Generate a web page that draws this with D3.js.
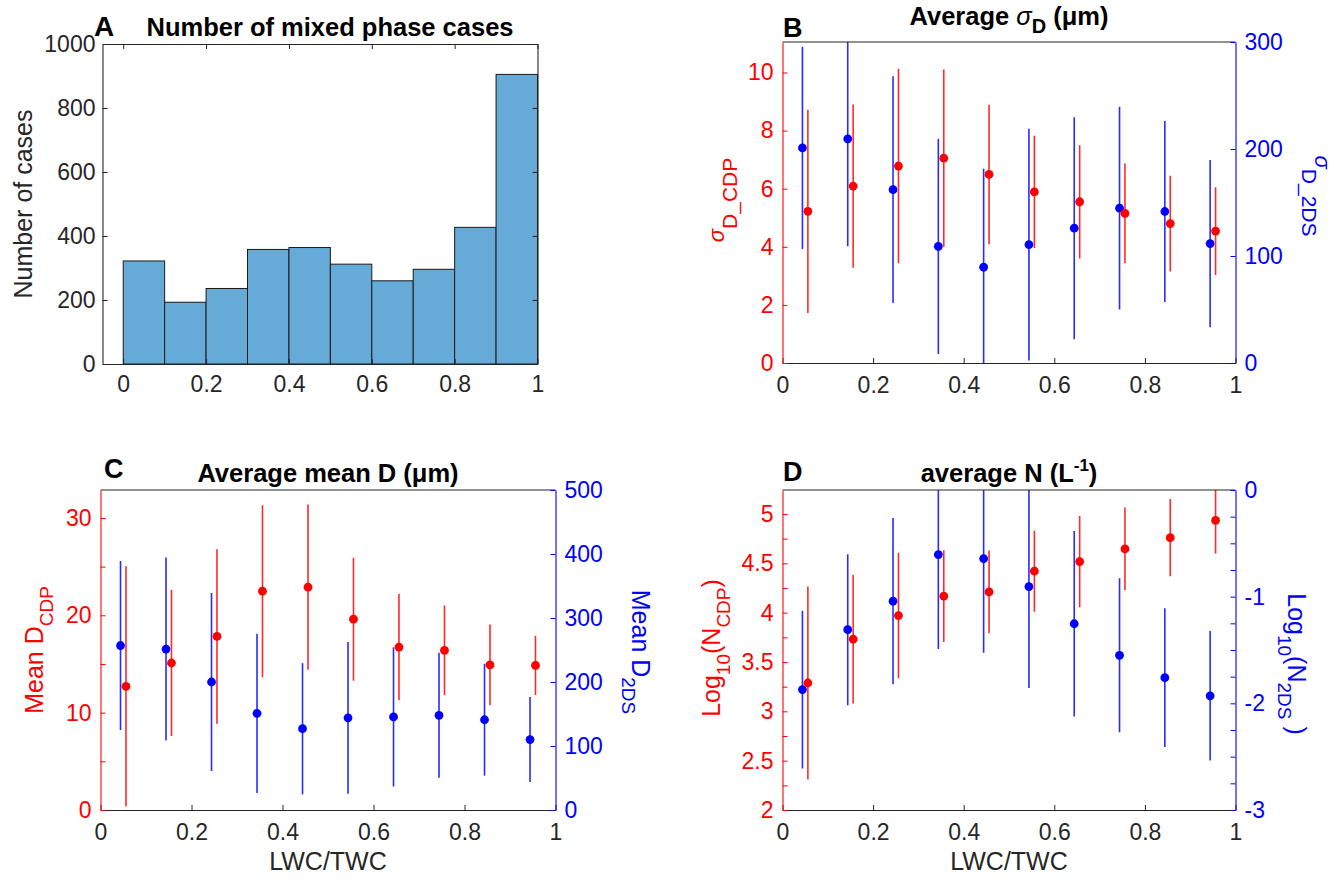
<!DOCTYPE html>
<html><head><meta charset="utf-8">
<script src="https://cdn.jsdelivr.net/npm/d3@7"></script>
<style>
body{margin:0;background:#fff}
svg text{font-family:"Liberation Sans",Arial,Helvetica,sans-serif}
</style>
</head><body>
<svg id="fig" width="1337" height="880"></svg>
<script>
// ---------------- DATA ----------------
const binEdges = [0,0.1,0.2,0.3,0.4,0.5,0.6,0.7,0.8,0.9,1.0];
const caseCounts = [322,193,236,358,364,312,260,296,427,905];
const binCenters = [0.05,0.15,0.25,0.35,0.45,0.55,0.65,0.75,0.85,0.95];
const xTicks = [0,0.2,0.4,0.6,0.8,1];
const histYTicks = [0,200,400,600,800,1000];

// Panel B: sigma_D
const sigmaCDP    = [5.22,6.09,6.78,7.05,6.49,5.89,5.55,5.15,4.80,4.54];
const sigmaCDPerr = [3.50,2.81,3.35,3.05,2.40,1.93,1.95,1.72,1.65,1.51];
const sigma2DS    = [201,209.5,162,109,89.5,110.7,126,144.7,141.6,111.6];
const sigma2DSerr = [94.5,100.5,106,100.6,92,108.3,103.7,94.7,84.6,78.2];
const bLeftTicks  = [0,2,4,6,8,10];
const bRightTicks = [0,100,200,300];

// Panel C: mean D
const meanDCDP    = [12.7,15.1,17.83,22.48,22.89,19.6,16.74,16.4,14.9,14.86];
const meanDCDPerr = [12.33,7.51,8.96,8.83,8.48,6.32,5.47,4.6,4.15,3.05];
const meanD2DS    = [257,251.5,200,151,127,144,145.5,148,141,110];
const meanD2DSerr = [132,143,139,124.5,102.5,118.5,108.7,97.7,87.4,66.4];
const cLeftTicks  = [0,5,10,15,20,25,30];
const cLeftLabels = [0,10,20,30];
const cRightTicks = [0,100,200,300,400,500];

// Panel D: log10 N
const logNCDP     = [3.287,3.732,3.97,4.167,4.21,4.42,4.518,4.646,4.76,4.936];
const logNCDPerr  = [0.979,0.653,0.636,0.465,0.42,0.41,0.462,0.42,0.392,0.336];
const logN2DS     = [-1.871,-1.31,-1.042,-0.605,-0.643,-0.905,-1.254,-1.55,-1.759,-1.93];
const logN2DSerr  = [0.74,0.708,0.78,0.885,0.882,0.951,0.869,0.722,0.65,0.607];
const dLeftTicks  = [2,2.25,2.5,2.75,3,3.25,3.5,3.75,4,4.25,4.5,4.75,5];
const dLeftLabels = [2,2.5,3,3.5,4,4.5,5];
const dRightTicks = [-3,-2.75,-2.5,-2.25,-2,-1.75,-1.5,-1.25,-1,-0.75,-0.5,-0.25,0];
const dRightLabels= [-3,-2,-1,0];

// ---------------- STYLE ----------------
const RED = "#ff0000", BLUE = "#0000ff", AX = "#262626";
const TICK_FS = 23, LAB_FS = 25, TITLE_FS = 25.5;
const svg = d3.select("#fig");

function styleAxis(g, color){
  g.attr("color", color).attr("font-size", TICK_FS)
   .attr("font-family", '"Liberation Sans",Arial,sans-serif');
  g.selectAll("path.domain").attr("stroke-width", 1.1);
  g.selectAll(".tick line").attr("stroke-width", 1);
}

function rich(parent, x, y, rot, parts, opts){
  const t = parent.append("text")
    .attr("transform", `translate(${x},${y}) rotate(${rot})`)
    .attr("text-anchor", "middle")
    .attr("fill", opts.color || "#000")
    .attr("font-size", opts.size)
    .attr("font-weight", opts.weight || "normal");
  let cur = 0;
  parts.forEach(p => {
    const sp = t.append("tspan").text(p.t);
    const target = p.dy || 0;
    if (target !== cur) { sp.attr("dy", target - cur); cur = target; }
    if (p.size) sp.attr("font-size", p.size);
    if (p.italic) sp.attr("font-style", "italic");
    if (p.weight) sp.attr("font-weight", p.weight);
  });
  return t;
}

// ---------------- PANEL A ----------------
(function(){
  const L=102.5, R=537.5, T=44, B=364;
  const x = d3.scaleLinear().domain([-0.05,1]).range([L,R]);
  const y = d3.scaleLinear().domain([0,1000]).range([B,T]);
  const g = svg.append("g");
  g.selectAll("rect.bar").data(caseCounts).enter().append("rect")
    .attr("x",(d,i)=>x(binEdges[i])).attr("width",(d,i)=>x(binEdges[i+1])-x(binEdges[i]))
    .attr("y",d=>y(d)).attr("height",d=>B-y(d))
    .attr("fill","#66aad7").attr("stroke","#1a1a1a").attr("stroke-width",1);
  const fmt = d=>String(d);
  const ax1 = g.append("g").attr("transform",`translate(0,${B})`)
    .call(d3.axisBottom(x).tickValues(xTicks).tickFormat(fmt).tickSizeInner(-5).tickSizeOuter(0).tickPadding(12));
  styleAxis(ax1, AX);
  const ax2 = g.append("g").attr("transform",`translate(0,${T})`)
    .call(d3.axisTop(x).tickValues(xTicks).tickFormat("").tickSizeInner(-5).tickSizeOuter(0));
  styleAxis(ax2, AX);
  const ay1 = g.append("g").attr("transform",`translate(${L},0)`)
    .call(d3.axisLeft(y).tickValues(histYTicks).tickFormat(fmt).tickSizeInner(-5).tickSizeOuter(0).tickPadding(7));
  styleAxis(ay1, AX);
  const ay2 = g.append("g").attr("transform",`translate(${R},0)`)
    .call(d3.axisRight(y).tickValues(histYTicks).tickFormat("").tickSizeInner(-5).tickSizeOuter(0));
  styleAxis(ay2, AX);
  g.append("text").attr("x",94).attr("y",36).attr("font-size",28).attr("font-weight","bold").text("A");
  g.append("text").attr("x",330).attr("y",36).attr("text-anchor","middle")
    .attr("font-size",TITLE_FS).attr("font-weight","bold").text("Number of mixed phase cases");
  rich(g, 32, 204, -90, [{t:"Number of cases"}], {size:LAB_FS, color:"#262626"});
})();

// ---------------- DUAL-AXIS PANELS ----------------
function dualPanel(cfg){
  const {L,R,T,B} = cfg;
  const g = svg.append("g");
  const x = d3.scaleLinear().domain([0,1]).range([L,R]);
  const yl = d3.scaleLinear().domain(cfg.leftDomain).range([B,T]);
  const yr = d3.scaleLinear().domain(cfg.rightDomain).range([B,T]);
  const cid = "clip"+cfg.id;
  g.append("clipPath").attr("id",cid).append("rect")
    .attr("x",L).attr("y",T).attr("width",R-L).attr("height",B-T);
  const pg = g.append("g").attr("clip-path",`url(#${cid})`);
  const offB = -0.006, offR = 0.006;
  // blue series (right axis)
  pg.selectAll("line.eb2").data(cfg.rVals).enter().append("line")
    .attr("x1",(d,i)=>x(binCenters[i]+offB)).attr("x2",(d,i)=>x(binCenters[i]+offB))
    .attr("y1",(d,i)=>yr(d-cfg.rErr[i])).attr("y2",(d,i)=>yr(d+cfg.rErr[i]))
    .attr("stroke","#2a2aff").attr("stroke-width",1.6);
  pg.selectAll("circle.p2").data(cfg.rVals).enter().append("circle")
    .attr("cx",(d,i)=>x(binCenters[i]+offB)).attr("cy",d=>yr(d)).attr("r",4.4).attr("fill",BLUE);
  // red series (left axis)
  pg.selectAll("line.eb1").data(cfg.lVals).enter().append("line")
    .attr("x1",(d,i)=>x(binCenters[i]+offR)).attr("x2",(d,i)=>x(binCenters[i]+offR))
    .attr("y1",(d,i)=>yl(d-cfg.lErr[i])).attr("y2",(d,i)=>yl(d+cfg.lErr[i]))
    .attr("stroke","#ff2a2a").attr("stroke-width",1.6);
  pg.selectAll("circle.p1").data(cfg.lVals).enter().append("circle")
    .attr("cx",(d,i)=>x(binCenters[i]+offR)).attr("cy",d=>yl(d)).attr("r",4.4).attr("fill",RED);
  // top line
  g.append("line").attr("x1",L).attr("x2",R).attr("y1",T).attr("y2",T)
    .attr("stroke",AX).attr("stroke-width",1.1);
  const fmt = d=>String(d);
  const ax = g.append("g").attr("transform",`translate(0,${B})`)
    .call(d3.axisBottom(x).tickValues(xTicks).tickFormat(fmt).tickSizeInner(-5).tickSizeOuter(0).tickPadding(14));
  styleAxis(ax, AX);
  const lLab = new Set(cfg.leftLabels || cfg.leftTicks);
  const rLab = new Set(cfg.rightLabels || cfg.rightTicks);
  const al = g.append("g").attr("transform",`translate(${L},0)`)
    .call(d3.axisLeft(yl).tickValues(cfg.leftTicks).tickFormat(d=>lLab.has(d)?fmt(d):"")
      .tickSizeInner(-5).tickSizeOuter(0).tickPadding(9));
  styleAxis(al, RED);
  const ar = g.append("g").attr("transform",`translate(${R},0)`)
    .call(d3.axisRight(yr).tickValues(cfg.rightTicks).tickFormat(d=>rLab.has(d)?fmt(d):"")
      .tickSizeInner(-5).tickSizeOuter(0).tickPadding(9));
  styleAxis(ar, BLUE);
  // panel letter & title
  g.append("text").attr("x",cfg.letterX).attr("y",cfg.letterY).attr("font-size",27)
    .attr("font-weight","bold").text(cfg.letter);
  rich(g, (L+R)/2, cfg.titleY, 0, cfg.title, {size:TITLE_FS, weight:"bold"});
  rich(g, cfg.lLabX, cfg.lLabY, -90, cfg.lLabel, {size:LAB_FS, color:RED});
  rich(g, cfg.rLabX, cfg.rLabY, 90, cfg.rLabel, {size:LAB_FS, color:BLUE});
  if (cfg.xlabel) {
    g.append("text").attr("x",(L+R)/2).attr("y",B+60).attr("text-anchor","middle")
      .attr("font-size",LAB_FS).attr("fill","#262626").text(cfg.xlabel);
  }
}

// Panel B
dualPanel({id:"B", L:782.5, R:1235.5, T:42, B:363,
  leftDomain:[0,11.05], rightDomain:[0,300],
  leftTicks:bLeftTicks, rightTicks:bRightTicks,
  lVals:sigmaCDP, lErr:sigmaCDPerr, rVals:sigma2DS, rErr:sigma2DSerr,
  letter:"B", letterX:783, letterY:37, titleY:25,
  title:[{t:"Average "},{t:"σ",italic:true,weight:"normal"},{t:"D",size:20,dy:8},{t:" (μm)",dy:0}],
  lLabX:724, lLabY:200, lLabel:[{t:"σ",italic:true,size:22},{t:"D_CDP",dy:13,size:21}],
  rLabX:1315, rLabY:196, rLabel:[{t:"σ",italic:true,size:22},{t:"D_2DS",dy:13,size:21}]
});

// Panel C
dualPanel({id:"C", L:100.5, R:555.5, T:490, B:810,
  leftDomain:[0,32.87], rightDomain:[0,500],
  leftTicks:cLeftTicks, leftLabels:cLeftLabels, rightTicks:cRightTicks,
  lVals:meanDCDP, lErr:meanDCDPerr, rVals:meanD2DS, rErr:meanD2DSerr,
  letter:"C", letterX:104, letterY:478, titleY:482,
  title:[{t:"Average mean D (μm)"}],
  lLabX:43, lLabY:650, lLabel:[{t:"Mean D"},{t:"CDP",dy:10,size:19}],
  rLabX:632, rLabY:652, rLabel:[{t:"Mean D"},{t:"2DS",dy:10,size:19}],
  xlabel:"LWC/TWC"
});

// Panel D
dualPanel({id:"D", L:782.5, R:1235.5, T:490, B:810,
  leftDomain:[2,5.243], rightDomain:[-3,0],
  leftTicks:dLeftTicks, leftLabels:dLeftLabels, rightTicks:dRightTicks, rightLabels:dRightLabels,
  lVals:logNCDP, lErr:logNCDPerr, rVals:logN2DS, rErr:logN2DSerr,
  letter:"D", letterX:783, letterY:481, titleY:482,
  title:[{t:"average N (L"},{t:"-1",size:17,dy:-11},{t:")",dy:0}],
  lLabX:720, lLabY:648, lLabel:[{t:"Log"},{t:"10",dy:10,size:19},{t:"(N",dy:0},{t:"CDP",dy:10,size:19},{t:")",dy:0}],
  rLabX:1288, rLabY:664, rLabel:[{t:"Log"},{t:"10",dy:10,size:19},{t:"(N",dy:0},{t:"2DS",dy:10,size:19},{t:" )",dy:0}],
  xlabel:"LWC/TWC"
});
</script>
</body></html>
